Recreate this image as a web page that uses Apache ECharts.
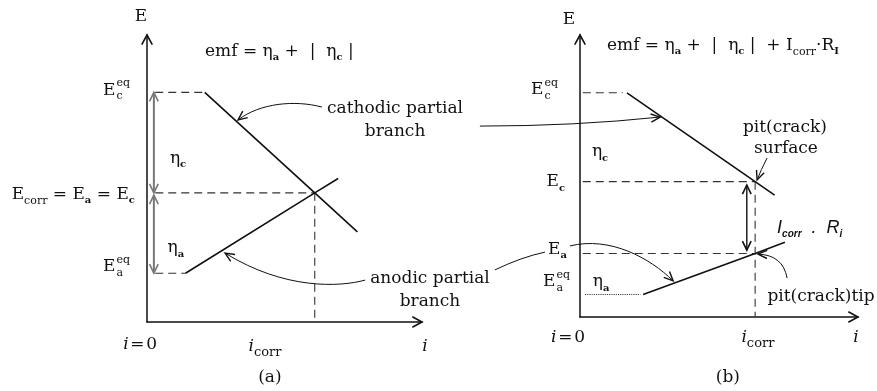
<!DOCTYPE html>
<html>
<head>
<meta charset="utf-8">
<script src="https://cdn.jsdelivr.net/npm/echarts@6/dist/echarts.min.js"></script>
<style>
  html, body { margin: 0; padding: 0; background: #fff; }
  #chart { width: 877px; height: 391px; }
</style>
</head>
<body>
<div id="chart"></div>
<script>
// Both panels use schematic axis units: current i from 0 to 10, potential E from 0 to 10.

// ---- Panel (a): free surface ----
const aEceq = 8.0;      // cathodic equilibrium potential
const aEcorr = 4.5;     // mixed (corrosion) potential
const aEaeq = 1.7;      // anodic equilibrium potential
const aIcorr = 6.1;     // corrosion current
const aCathodic = [[2.1, 8.0], [6.1, 4.5], [7.65, 3.14]];
const aAnodic = [[1.4, 1.7], [6.1, 4.5], [6.95, 5.0]];
const aArrowX = 0.25;   // position of the overpotential arrows

// ---- Panel (b): pit / crack with ohmic drop ----
const bEceq = 7.95;
const bEc = 4.8;
const bEa = 2.25;
const bEaeq = 0.8;
const bIcorr = 6.3;
const bCathodic = [[1.69, 7.95], [6.3, 4.8], [7.0, 4.32]];
const bAnodic = [[2.27, 0.8], [6.3, 2.25], [7.37, 2.65]];
const bIRx = 6.0;       // position of the I·R arrow

// Leader curves (start, control(s), end) in axis units of their panel
const aCurves = [
  { pts: [[6.36, 7.49], [5.38, 7.74], [4.11, 7.63], [3.31, 7.04]], arrow: true },
  { pts: [[7.93, 1.46], [7.02, 1.22], [5.02, 1.11], [2.84, 2.40]], arrow: true }
];
const bCurves = [
  { pts: [[-3.6, 6.77], [-0.18, 6.77], [2.88, 7.09]], arrow: true },
  { pts: [[-3.06, 1.67], [-2.09, 2.13], [-1.26, 2.30]], arrow: false },
  { pts: [[-0.36, 2.52], [1.08, 2.87], [2.52, 2.09], [3.35, 1.28]], arrow: true },
  { pts: [[6.73, 5.64], [6.5, 5.2], [6.37, 4.86]], arrow: true },
  { pts: [[7.45, 1.38], [7.3, 2.2], [6.4, 2.23]], arrow: true }
];

// ---- Fonts ----
const SERIF = '"DejaVu Serif", "Liberation Serif", serif';
const SANS = '"Liberation Sans", Arial, sans-serif';
const FONTS = {
  rm: '17px ' + SERIF,
  it: 'italic 17px ' + SERIF,
  sub: '11px ' + SERIF,
  subB: 'bold 10px ' + SERIF,
  subC: '13px ' + SERIF,
  txt: '17px ' + SERIF,
  sit: 'italic 18px ' + SANS,
  ssub: 'italic bold 10px ' + SANS
};
const SHIFT = { sub: 6, subB: 6, subC: 6, ssub: 6 };
const INK = '#111';

// Text labels: anchor (axis units), alignment and the pieces that make up each label
const aLabels = [
  { at: [-0.22, 10.63], align: 'center', segs: [['rm', 'E']] },
  { at: [2.11, 9.43], align: 'left', segs: [['rm', 'emf = '], ['rm', 'η'], ['subB', 'a'], ['rm', ' +  |  '], ['rm', 'η'], ['subB', 'c'], ['rm', ' |']] },
  { at: [-0.62, 8.08], align: 'right', segs: [['rm', 'E'], ['stack', 'eq', 'c']] },
  { at: [1.13, 5.71], align: 'center', segs: [['rm', 'η'], ['subB', 'c']] },
  { at: [-0.44, 4.43], align: 'right', segs: [['rm', 'E'], ['sub', 'corr'], ['rm', ' = E'], ['subB', 'a'], ['rm', ' = E'], ['subB', 'c']] },
  { at: [1.05, 2.58], align: 'center', segs: [['rm', 'η'], ['subB', 'a']] },
  { at: [-0.62, 1.92], align: 'right', segs: [['rm', 'E'], ['stack', 'eq', 'a']] },
  { at: [9.02, 7.42], align: 'center', segs: [['txt', 'cathodic partial']] },
  { at: [9.02, 6.62], align: 'center', segs: [['txt', 'branch']] },
  { at: [10.29, 1.50], align: 'center', segs: [['txt', 'anodic partial']] },
  { at: [10.29, 0.70], align: 'center', segs: [['txt', 'branch']] },
  { at: [-0.25, -0.80], align: 'center', segs: [['it', 'i'], ['rm', '\u200a=\u200a0']] },
  { at: [4.29, -0.87], align: 'center', segs: [['it', 'i'], ['subC', 'corr']] },
  { at: [10.11, -0.87], align: 'center', segs: [['it', 'i']] },
  { at: [4.47, -1.95], align: 'center', segs: [['txt', '(a)']] }
];
const bLabels = [
  { at: [-0.40, 10.53], align: 'center', segs: [['rm', 'E']] },
  { at: [0.97, 9.62], align: 'left', segs: [['rm', 'emf = '], ['rm', 'η'], ['subB', 'a'], ['rm', ' +  |  '], ['rm', 'η'], ['subB', 'c'], ['rm', ' |  + I'], ['sub', 'corr'], ['rm', '·R'], ['subB', 'I']] },
  { at: [-0.79, 8.05], align: 'right', segs: [['rm', 'E'], ['stack', 'eq', 'c']] },
  { at: [0.72, 5.85], align: 'center', segs: [['rm', 'η'], ['subB', 'c']] },
  { at: [-0.54, 4.79], align: 'right', segs: [['rm', 'E'], ['subB', 'c']] },
  { at: [-0.47, 2.38], align: 'right', segs: [['rm', 'E'], ['subB', 'a']] },
  { at: [-0.36, 1.24], align: 'right', segs: [['rm', 'E'], ['stack', 'eq', 'a']] },
  { at: [0.76, 1.24], align: 'center', segs: [['rm', 'η'], ['subB', 'a']] },
  { at: [7.09, 3.16], align: 'left', segs: [['sit', 'I'], ['ssub', 'corr'], ['sit', '  .  R'], ['ssub', 'i']] },
  { at: [7.37, 6.70], align: 'center', segs: [['txt', 'pit(crack)']] },
  { at: [7.41, 5.96], align: 'center', segs: [['txt', 'surface']] },
  { at: [8.67, 0.71], align: 'center', segs: [['txt', 'pit(crack)tip']] },
  { at: [-0.43, -0.74], align: 'center', segs: [['it', 'i'], ['rm', '\u200a=\u200a0']] },
  { at: [6.40, -0.74], align: 'center', segs: [['it', 'i'], ['subC', 'corr']] },
  { at: [9.93, -0.74], align: 'center', segs: [['it', 'i']] },
  { at: [5.32, -2.16], align: 'center', segs: [['txt', '(b)']] }
];

// ---- Drawing helpers ----
const measureCtx = document.createElement('canvas').getContext('2d');
function textWidth(font, t) { measureCtx.font = font; return measureCtx.measureText(t).width; }

function vHead(tip, from, len, spread, width, color) {
  const dx = tip[0] - from[0], dy = tip[1] - from[1];
  const d = Math.hypot(dx, dy) || 1;
  const bx = -dx / d, by = -dy / d;
  const c = Math.cos(spread), s = Math.sin(spread);
  const p1 = [tip[0] + len * (bx * c - by * s), tip[1] + len * (bx * s + by * c)];
  const p2 = [tip[0] + len * (bx * c + by * s), tip[1] + len * (-bx * s + by * c)];
  return { type: 'polyline', shape: { points: [p1, tip, p2] },
           style: { stroke: color, lineWidth: width, fill: null } };
}

function labelShapes(api, lab) {
  const p = api.coord(lab.at);
  const pieces = [];
  let w = 0;
  lab.segs.forEach(seg => {
    if (seg[0] === 'stack') {
      const w1 = textWidth(FONTS.sub, seg[1]), w2 = textWidth(FONTS.sub, seg[2]);
      pieces.push({ x: w + 1, dy: -7, font: FONTS.sub, t: seg[1] });
      pieces.push({ x: w + 1, dy: 6, font: FONTS.sub, t: seg[2] });
      w += Math.max(w1, w2) + 1;
    } else {
      const font = FONTS[seg[0]];
      pieces.push({ x: w, dy: SHIFT[seg[0]] || 0, font: font, t: seg[1] });
      w += textWidth(font, seg[1]);
    }
  });
  const x0 = lab.align === 'left' ? p[0] : lab.align === 'right' ? p[0] - w : p[0] - w / 2;
  return pieces.map(pc => ({
    type: 'text', x: x0 + pc.x, y: p[1] + pc.dy,
    style: { text: pc.t, font: pc.font, fill: INK, align: 'left', verticalAlign: 'middle' }
  }));
}

function curveShapes(api, cv) {
  const q = cv.pts.map(pt => api.coord(pt));
  const shape = { x1: q[0][0], y1: q[0][1], x2: q[q.length - 1][0], y2: q[q.length - 1][1],
                  cpx1: q[1][0], cpy1: q[1][1] };
  if (q.length === 4) { shape.cpx2 = q[2][0]; shape.cpy2 = q[2][1]; }
  const out = [{ type: 'bezierCurve', shape: shape, style: { stroke: INK, lineWidth: 1, fill: null } }];
  if (cv.arrow) out.push(vHead(q[q.length - 1], q[q.length - 2], 10, 0.42, 1.4, INK));
  return out;
}

function doubleArrow(api, from, to, color, width) {
  const a = api.coord(from), b = api.coord(to);
  return [
    { type: 'line', shape: { x1: a[0], y1: a[1], x2: b[0], y2: b[1] }, style: { stroke: color, lineWidth: width } },
    vHead(a, b, 10, 0.45, 1.6, color),
    vHead(b, a, 10, 0.45, 1.6, color)
  ];
}

function axisHeads(api) {
  return [
    vHead(api.coord([0, 10]), api.coord([0, 9]), 11, 0.5, 1.6, INK),
    vHead(api.coord([10, 0]), api.coord([9, 0]), 11, 0.5, 1.6, INK)
  ];
}

// ---- Series builders ----
function solid(idx, data) {
  return { type: 'line', xAxisIndex: idx, yAxisIndex: idx, data: data, symbol: 'none', silent: true,
           lineStyle: { color: INK, width: 1.6 } };
}
function dashed(idx, data, kind) {
  return { type: 'line', xAxisIndex: idx, yAxisIndex: idx, data: data, symbol: 'none', silent: true,
           lineStyle: { color: '#333', width: 1.1, type: kind || [8, 5] } };
}
function annotations(idx, extra) {
  return { type: 'custom', xAxisIndex: idx, yAxisIndex: idx, clip: false, silent: true, data: [[0, 0]],
           renderItem: (params, api) => ({ type: 'group', children: extra(api) }) };
}

function axisPair(idx) {
  const common = {
    gridIndex: idx, type: 'value', min: 0, max: 10,
    axisLine: { show: true, onZero: false, lineStyle: { color: INK, width: 1.5 } },
    axisTick: { show: false }, axisLabel: { show: false }, splitLine: { show: false }
  };
  return [Object.assign({}, common), Object.assign({}, common)];
}
const axA = axisPair(0), axB = axisPair(1);

const option = {
  animation: false,
  backgroundColor: '#fff',
  grid: [
    { left: 147, top: 35, width: 275, height: 287 },
    { left: 580, top: 35, width: 278, height: 282 }
  ],
  xAxis: [axA[0], axB[0]],
  yAxis: [axA[1], axB[1]],
  series: [
    // panel (a)
    dashed(0, [[0.3, aEceq], [aCathodic[0][0], aEceq]]),
    dashed(0, [[0.3, aEcorr], [aIcorr, aEcorr]]),
    dashed(0, [[aIcorr, aEcorr], [aIcorr, 0]]),
    dashed(0, [[0.3, aEaeq], [aAnodic[0][0], aEaeq]]),
    solid(0, aCathodic),
    solid(0, aAnodic),
    annotations(0, api => [].concat(
      axisHeads(api),
      doubleArrow(api, [aArrowX, aEceq], [aArrowX, aEcorr], '#777', 2),
      doubleArrow(api, [aArrowX, aEcorr - 0.08], [aArrowX, aEaeq], '#777', 2),
      ...aCurves.map(c => curveShapes(api, c)),
      ...aLabels.map(l => labelShapes(api, l))
    )),
    // panel (b)
    dashed(1, [[0.1, bEceq], [bCathodic[0][0] - 0.15, bEceq]]),
    dashed(1, [[0.1, bEc], [bIcorr, bEc]]),
    dashed(1, [[0.1, bEa], [bIcorr, bEa]]),
    dashed(1, [[bIcorr, bEc], [bIcorr, 0]]),
    dashed(1, [[0.18, bEaeq], [bAnodic[0][0] - 0.1, bEaeq]], 'dotted'),
    solid(1, bCathodic),
    solid(1, bAnodic),
    annotations(1, api => [].concat(
      axisHeads(api),
      doubleArrow(api, [bIRx, bEc - 0.12], [bIRx, bEa + 0.12], INK, 1.4),
      ...bCurves.map(c => curveShapes(api, c)),
      ...bLabels.map(l => labelShapes(api, l))
    ))
  ]
};

const chart = echarts.init(document.getElementById('chart'), null, { renderer: 'canvas' });
chart.setOption(option);
</script>
</body>
</html>
